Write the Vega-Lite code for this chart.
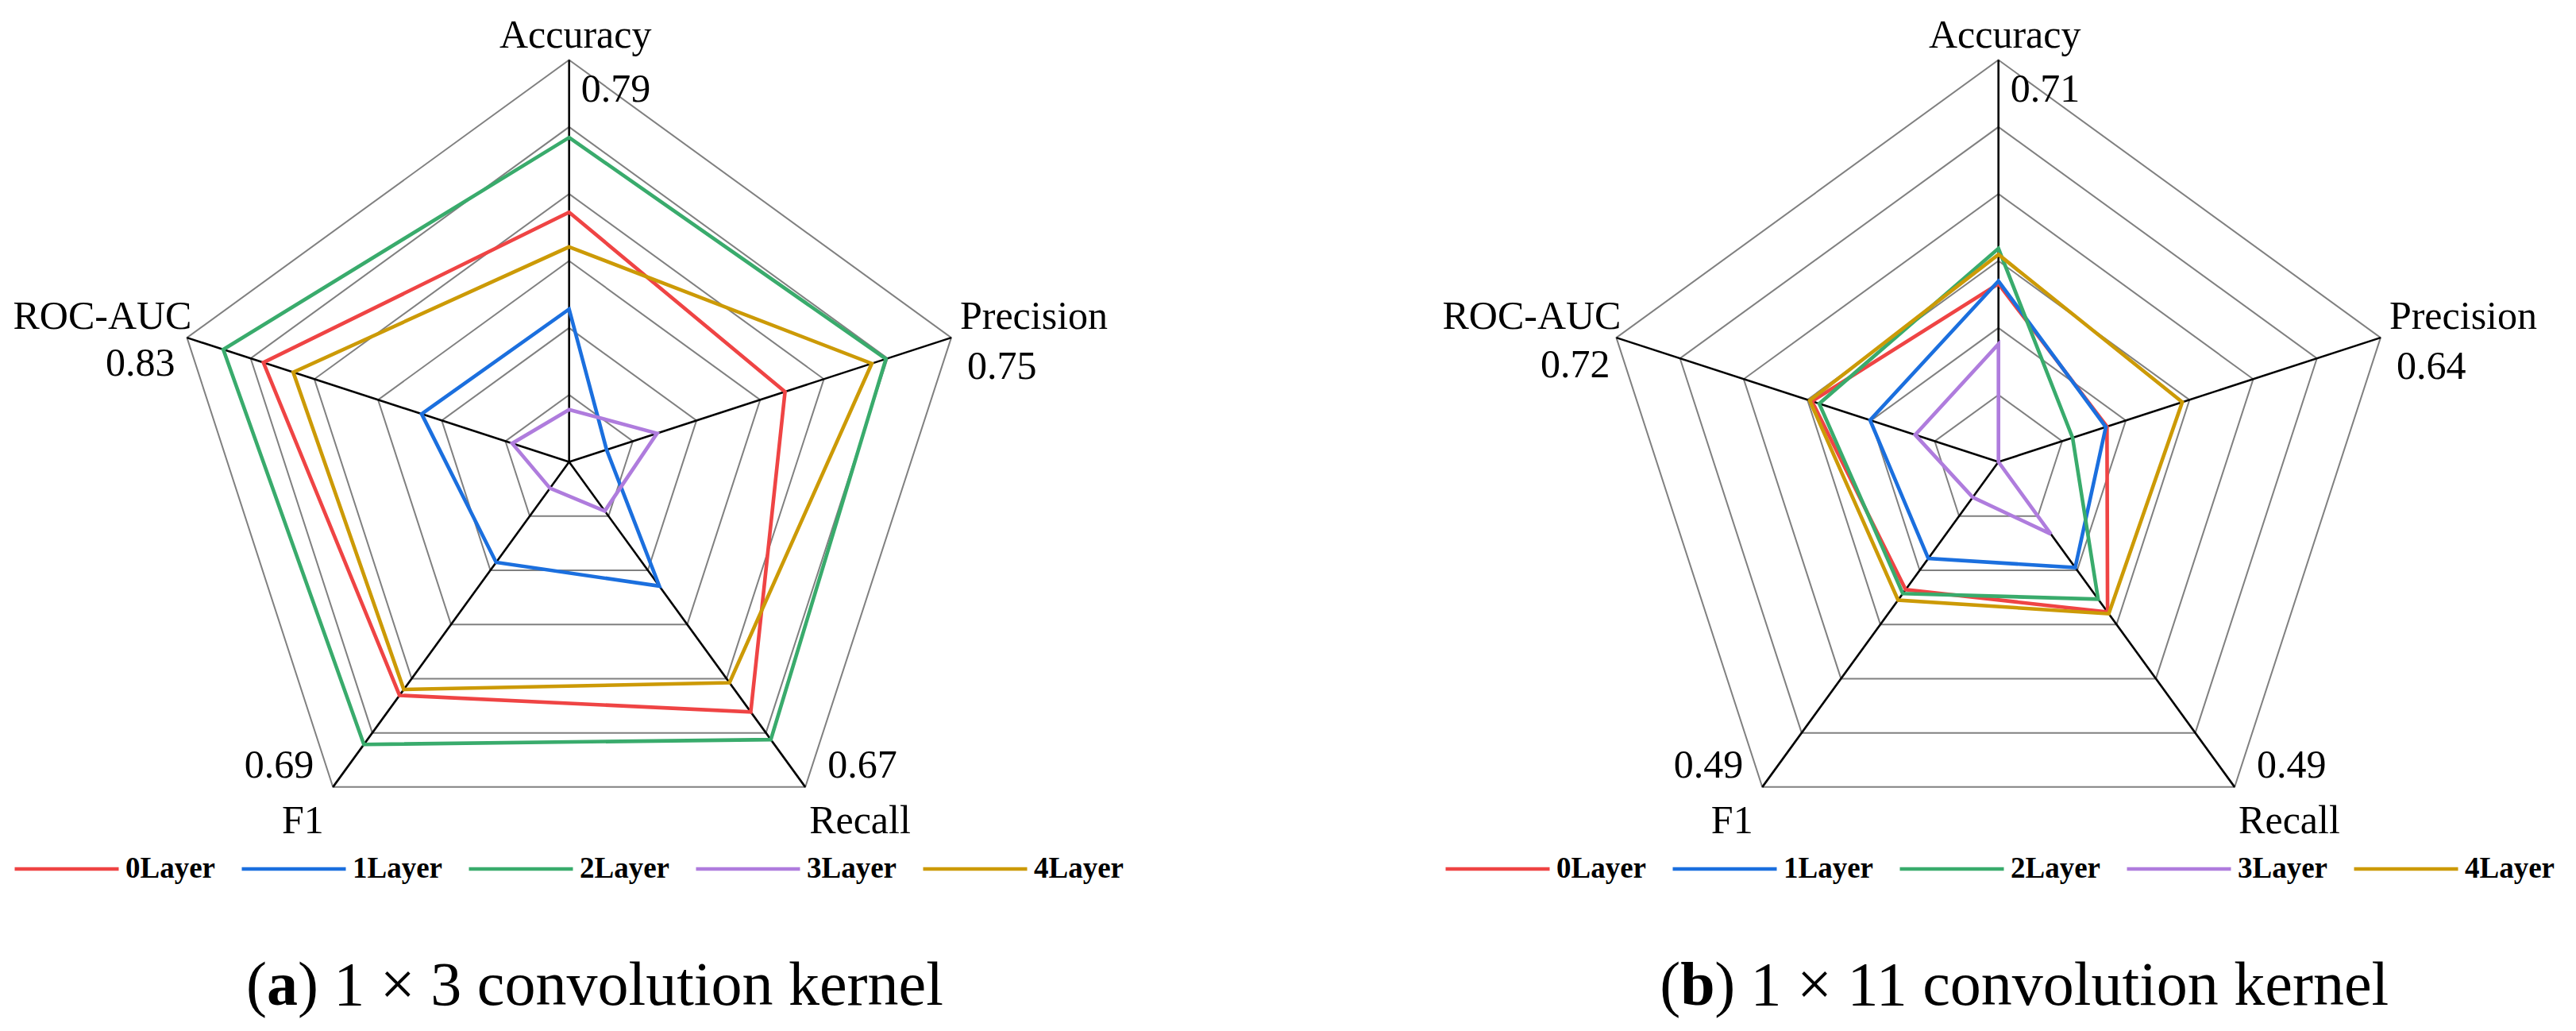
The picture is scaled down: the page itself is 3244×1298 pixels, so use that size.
{
  "$schema": "https://vega.github.io/schema/vega-lite/v6.json",
  "padding": 0,
  "spacing": 0,
  "background": "white",
  "config": {"view": {"stroke": null}, "font": "Liberation Serif"},
  "datasets": {
    "axes": [
      {"panel": "a", "metric": "Accuracy", "k": 0, "max": "0.79"},
      {"panel": "a", "metric": "Precision", "k": 1, "max": "0.75"},
      {"panel": "a", "metric": "Recall", "k": 2, "max": "0.67"},
      {"panel": "a", "metric": "F1", "k": 3, "max": "0.69"},
      {"panel": "a", "metric": "ROC-AUC", "k": 4, "max": "0.83"},
      {"panel": "b", "metric": "Accuracy", "k": 0, "max": "0.71"},
      {"panel": "b", "metric": "Precision", "k": 1, "max": "0.64"},
      {"panel": "b", "metric": "Recall", "k": 2, "max": "0.49"},
      {"panel": "b", "metric": "F1", "k": 3, "max": "0.49"},
      {"panel": "b", "metric": "ROC-AUC", "k": 4, "max": "0.72"}
    ],
    "rings": [
      {"level": 1, "k": [0, 1, 2, 3, 4]},
      {"level": 2, "k": [0, 1, 2, 3, 4]},
      {"level": 3, "k": [0, 1, 2, 3, 4]},
      {"level": 4, "k": [0, 1, 2, 3, 4]},
      {"level": 5, "k": [0, 1, 2, 3, 4]},
      {"level": 6, "k": [0, 1, 2, 3, 4]}
    ],
    "scores": [
      {"panel": "a", "layer": "0Layer", "metric": "Accuracy", "scaled": 0.621},
      {"panel": "a", "layer": "0Layer", "metric": "Precision", "scaled": 0.565},
      {"panel": "a", "layer": "0Layer", "metric": "Recall", "scaled": 0.769},
      {"panel": "a", "layer": "0Layer", "metric": "F1", "scaled": 0.718},
      {"panel": "a", "layer": "0Layer", "metric": "ROC-AUC", "scaled": 0.80},
      {"panel": "a", "layer": "1Layer", "metric": "Accuracy", "scaled": 0.380},
      {"panel": "a", "layer": "1Layer", "metric": "Precision", "scaled": 0.098},
      {"panel": "a", "layer": "1Layer", "metric": "Recall", "scaled": 0.382},
      {"panel": "a", "layer": "1Layer", "metric": "F1", "scaled": 0.309},
      {"panel": "a", "layer": "1Layer", "metric": "ROC-AUC", "scaled": 0.386},
      {"panel": "a", "layer": "2Layer", "metric": "Accuracy", "scaled": 0.807},
      {"panel": "a", "layer": "2Layer", "metric": "Precision", "scaled": 0.829},
      {"panel": "a", "layer": "2Layer", "metric": "Recall", "scaled": 0.854},
      {"panel": "a", "layer": "2Layer", "metric": "F1", "scaled": 0.869},
      {"panel": "a", "layer": "2Layer", "metric": "ROC-AUC", "scaled": 0.905},
      {"panel": "a", "layer": "3Layer", "metric": "Accuracy", "scaled": 0.130},
      {"panel": "a", "layer": "3Layer", "metric": "Precision", "scaled": 0.230},
      {"panel": "a", "layer": "3Layer", "metric": "Recall", "scaled": 0.151},
      {"panel": "a", "layer": "3Layer", "metric": "F1", "scaled": 0.081},
      {"panel": "a", "layer": "3Layer", "metric": "ROC-AUC", "scaled": 0.149},
      {"panel": "a", "layer": "4Layer", "metric": "Accuracy", "scaled": 0.535},
      {"panel": "a", "layer": "4Layer", "metric": "Precision", "scaled": 0.792},
      {"panel": "a", "layer": "4Layer", "metric": "Recall", "scaled": 0.679},
      {"panel": "a", "layer": "4Layer", "metric": "F1", "scaled": 0.700},
      {"panel": "a", "layer": "4Layer", "metric": "ROC-AUC", "scaled": 0.722},
      {"panel": "b", "layer": "0Layer", "metric": "Accuracy", "scaled": 0.443},
      {"panel": "b", "layer": "0Layer", "metric": "Precision", "scaled": 0.284},
      {"panel": "b", "layer": "0Layer", "metric": "Recall", "scaled": 0.462},
      {"panel": "b", "layer": "0Layer", "metric": "F1", "scaled": 0.393},
      {"panel": "b", "layer": "0Layer", "metric": "ROC-AUC", "scaled": 0.488},
      {"panel": "b", "layer": "1Layer", "metric": "Accuracy", "scaled": 0.450},
      {"panel": "b", "layer": "1Layer", "metric": "Precision", "scaled": 0.281},
      {"panel": "b", "layer": "1Layer", "metric": "Recall", "scaled": 0.325},
      {"panel": "b", "layer": "1Layer", "metric": "F1", "scaled": 0.297},
      {"panel": "b", "layer": "1Layer", "metric": "ROC-AUC", "scaled": 0.336},
      {"panel": "b", "layer": "2Layer", "metric": "Accuracy", "scaled": 0.531},
      {"panel": "b", "layer": "2Layer", "metric": "Precision", "scaled": 0.194},
      {"panel": "b", "layer": "2Layer", "metric": "Recall", "scaled": 0.422},
      {"panel": "b", "layer": "2Layer", "metric": "F1", "scaled": 0.405},
      {"panel": "b", "layer": "2Layer", "metric": "ROC-AUC", "scaled": 0.469},
      {"panel": "b", "layer": "3Layer", "metric": "Accuracy", "scaled": 0.293},
      {"panel": "b", "layer": "3Layer", "metric": "Precision", "scaled": 0.0},
      {"panel": "b", "layer": "3Layer", "metric": "Recall", "scaled": 0.222},
      {"panel": "b", "layer": "3Layer", "metric": "F1", "scaled": 0.109},
      {"panel": "b", "layer": "3Layer", "metric": "ROC-AUC", "scaled": 0.218},
      {"panel": "b", "layer": "4Layer", "metric": "Accuracy", "scaled": 0.516},
      {"panel": "b", "layer": "4Layer", "metric": "Precision", "scaled": 0.481},
      {"panel": "b", "layer": "4Layer", "metric": "Recall", "scaled": 0.467},
      {"panel": "b", "layer": "4Layer", "metric": "F1", "scaled": 0.425},
      {"panel": "b", "layer": "4Layer", "metric": "ROC-AUC", "scaled": 0.494}
    ]
  },
  "resolve": {"scale": {"x": "independent", "y": "independent", "color": "independent"}, "legend": {"color": "independent"}},
  "hconcat": [
    {
      "width": 1622,
      "height": 1298,
      "layer": [
        {
          "data": {"name": "rings"},
          "transform": [
            {"flatten": ["k"]},
            {"calculate": "datum.level/6*sin(datum.k*2*PI/5)", "as": "x"},
            {"calculate": "datum.level/6*cos(datum.k*2*PI/5)", "as": "y"}
          ],
          "mark": {"type": "line", "interpolate": "linear-closed", "stroke": "#808080", "strokeWidth": 2},
          "encoding": {
            "x": {"field": "x", "type": "quantitative", "scale": {"domain": [-1.4164, 1.7891], "nice": false, "zero": false}, "axis": null},
            "y": {"field": "y", "type": "quantitative", "scale": {"domain": [-1.416, 1.1492], "nice": false, "zero": false}, "axis": null},
            "detail": {"field": "level"},
            "order": {"field": "k"}
          }
        },
        {
          "data": {"name": "axes"},
          "transform": [
            {"filter": "datum.panel == 'a'"},
            {"calculate": "sin(datum.k*2*PI/5)", "as": "vx"},
            {"calculate": "cos(datum.k*2*PI/5)", "as": "vy"}
          ],
          "layer": [
            {
              "mark": {"type": "rule", "stroke": "black", "strokeWidth": 2.6},
              "encoding": {
                "x": {"field": "vx", "type": "quantitative"},
                "y": {"field": "vy", "type": "quantitative"},
                "x2": {"datum": 0},
                "y2": {"datum": 0}
              }
            },
            {
              "transform": [{"filter": "datum.k == 0"}],
              "layer": [
                {"mark": {"type": "text", "fontSize": 50, "align": "center", "baseline": "alphabetic", "dx": 8, "dy": -15}, "encoding": {"x": {"field": "vx", "type": "quantitative"}, "y": {"field": "vy", "type": "quantitative"}, "text": {"field": "metric"}}},
                {"mark": {"type": "text", "fontSize": 50, "align": "left", "baseline": "alphabetic", "dx": 15, "dy": 53}, "encoding": {"x": {"field": "vx", "type": "quantitative"}, "y": {"field": "vy", "type": "quantitative"}, "text": {"field": "max"}}}
              ]
            },
            {
              "transform": [{"filter": "datum.k == 1"}],
              "layer": [
                {"mark": {"type": "text", "fontSize": 50, "align": "left", "baseline": "alphabetic", "dx": 11, "dy": -11}, "encoding": {"x": {"field": "vx", "type": "quantitative"}, "y": {"field": "vy", "type": "quantitative"}, "text": {"field": "metric"}}},
                {"mark": {"type": "text", "fontSize": 50, "align": "left", "baseline": "alphabetic", "dx": 20, "dy": 52}, "encoding": {"x": {"field": "vx", "type": "quantitative"}, "y": {"field": "vy", "type": "quantitative"}, "text": {"field": "max"}}}
              ]
            },
            {
              "transform": [{"filter": "datum.k == 2"}],
              "layer": [
                {"mark": {"type": "text", "fontSize": 50, "align": "left", "baseline": "alphabetic", "dx": 5, "dy": 58}, "encoding": {"x": {"field": "vx", "type": "quantitative"}, "y": {"field": "vy", "type": "quantitative"}, "text": {"field": "metric"}}},
                {"mark": {"type": "text", "fontSize": 50, "align": "left", "baseline": "alphabetic", "dx": 28, "dy": -12}, "encoding": {"x": {"field": "vx", "type": "quantitative"}, "y": {"field": "vy", "type": "quantitative"}, "text": {"field": "max"}}}
              ]
            },
            {
              "transform": [{"filter": "datum.k == 3"}],
              "layer": [
                {"mark": {"type": "text", "fontSize": 50, "align": "center", "baseline": "alphabetic", "dx": -38, "dy": 58}, "encoding": {"x": {"field": "vx", "type": "quantitative"}, "y": {"field": "vy", "type": "quantitative"}, "text": {"field": "metric"}}},
                {"mark": {"type": "text", "fontSize": 50, "align": "right", "baseline": "alphabetic", "dx": -24, "dy": -12}, "encoding": {"x": {"field": "vx", "type": "quantitative"}, "y": {"field": "vy", "type": "quantitative"}, "text": {"field": "max"}}}
              ]
            },
            {
              "transform": [{"filter": "datum.k == 4"}],
              "layer": [
                {"mark": {"type": "text", "fontSize": 50, "align": "right", "baseline": "alphabetic", "dx": 6, "dy": -11}, "encoding": {"x": {"field": "vx", "type": "quantitative"}, "y": {"field": "vy", "type": "quantitative"}, "text": {"field": "metric"}}},
                {"mark": {"type": "text", "fontSize": 50, "align": "right", "baseline": "alphabetic", "dx": -15, "dy": 48}, "encoding": {"x": {"field": "vx", "type": "quantitative"}, "y": {"field": "vy", "type": "quantitative"}, "text": {"field": "max"}}}
              ]
            }
          ]
        },
        {
          "data": {"name": "scores"},
          "transform": [
            {"filter": "datum.panel == 'a'"},
            {"lookup": "metric", "from": {"data": {"name": "axes"}, "key": "metric", "fields": ["k"]}},
            {"calculate": "datum.scaled*sin(datum.k*2*PI/5)", "as": "x"},
            {"calculate": "datum.scaled*cos(datum.k*2*PI/5)", "as": "y"}
          ],
          "mark": {"type": "line", "interpolate": "linear-closed", "strokeWidth": 4.6},
          "encoding": {
            "x": {"field": "x", "type": "quantitative"},
            "y": {"field": "y", "type": "quantitative"},
            "order": {"field": "k"},
            "color": {
              "field": "layer",
              "type": "nominal",
              "scale": {"domain": ["0Layer", "1Layer", "2Layer", "3Layer", "4Layer"], "range": ["#EF4444", "#1B6FDE", "#39AB6C", "#AF7CDD", "#CC9A06"]},
              "legend": {"orient": "none", "legendX": 16, "legendY": 1026, "direction": "horizontal", "columns": 5, "title": null, "symbolType": "stroke", "symbolSize": 17161, "symbolStrokeWidth": 4.5, "labelFont": "Liberation Serif", "labelFontWeight": "bold", "labelFontSize": 37, "labelColor": "black", "labelOffset": 6, "columnPadding": 23, "padding": 0, "labelLimit": 400}
            }
          }
        },
        {
          "data": {"values": [{"part": "(", "bold": "a", "rest": ") 1 × 3 convolution kernel"}]},
          "layer": [
            {"mark": {"type": "text", "fontSize": 78, "align": "left", "baseline": "alphabetic", "dx": 0}, "encoding": {"x": {"datum": -0.804}, "y": {"datum": -1.35}, "text": {"field": "part"}}},
            {"mark": {"type": "text", "fontSize": 78, "fontWeight": "bold", "align": "left", "baseline": "alphabetic", "dx": 26}, "encoding": {"x": {"datum": -0.804}, "y": {"datum": -1.35}, "text": {"field": "bold"}}},
            {"mark": {"type": "text", "fontSize": 78, "align": "left", "baseline": "alphabetic", "dx": 65}, "encoding": {"x": {"datum": -0.804}, "y": {"datum": -1.35}, "text": {"field": "rest"}}}
          ]
        }
      ]
    },
    {
      "width": 1622,
      "height": 1298,
      "layer": [
        {
          "data": {"name": "rings"},
          "transform": [
            {"flatten": ["k"]},
            {"calculate": "datum.level/6*sin(datum.k*2*PI/5)", "as": "x"},
            {"calculate": "datum.level/6*cos(datum.k*2*PI/5)", "as": "y"}
          ],
          "mark": {"type": "line", "interpolate": "linear-closed", "stroke": "#808080", "strokeWidth": 2},
          "encoding": {
            "x": {"field": "x", "type": "quantitative", "scale": {"domain": [-1.7682, 1.4374], "nice": false, "zero": false}, "axis": null},
            "y": {"field": "y", "type": "quantitative", "scale": {"domain": [-1.416, 1.1492], "nice": false, "zero": false}, "axis": null},
            "detail": {"field": "level"},
            "order": {"field": "k"}
          }
        },
        {
          "data": {"name": "axes"},
          "transform": [
            {"filter": "datum.panel == 'b'"},
            {"calculate": "sin(datum.k*2*PI/5)", "as": "vx"},
            {"calculate": "cos(datum.k*2*PI/5)", "as": "vy"}
          ],
          "layer": [
            {
              "mark": {"type": "rule", "stroke": "black", "strokeWidth": 2.6},
              "encoding": {
                "x": {"field": "vx", "type": "quantitative"},
                "y": {"field": "vy", "type": "quantitative"},
                "x2": {"datum": 0},
                "y2": {"datum": 0}
              }
            },
            {
              "transform": [{"filter": "datum.k == 0"}],
              "layer": [
                {"mark": {"type": "text", "fontSize": 50, "align": "center", "baseline": "alphabetic", "dx": 8, "dy": -15}, "encoding": {"x": {"field": "vx", "type": "quantitative"}, "y": {"field": "vy", "type": "quantitative"}, "text": {"field": "metric"}}},
                {"mark": {"type": "text", "fontSize": 50, "align": "left", "baseline": "alphabetic", "dx": 15, "dy": 53}, "encoding": {"x": {"field": "vx", "type": "quantitative"}, "y": {"field": "vy", "type": "quantitative"}, "text": {"field": "max"}}}
              ]
            },
            {
              "transform": [{"filter": "datum.k == 1"}],
              "layer": [
                {"mark": {"type": "text", "fontSize": 50, "align": "left", "baseline": "alphabetic", "dx": 11, "dy": -11}, "encoding": {"x": {"field": "vx", "type": "quantitative"}, "y": {"field": "vy", "type": "quantitative"}, "text": {"field": "metric"}}},
                {"mark": {"type": "text", "fontSize": 50, "align": "left", "baseline": "alphabetic", "dx": 20, "dy": 52}, "encoding": {"x": {"field": "vx", "type": "quantitative"}, "y": {"field": "vy", "type": "quantitative"}, "text": {"field": "max"}}}
              ]
            },
            {
              "transform": [{"filter": "datum.k == 2"}],
              "layer": [
                {"mark": {"type": "text", "fontSize": 50, "align": "left", "baseline": "alphabetic", "dx": 5, "dy": 58}, "encoding": {"x": {"field": "vx", "type": "quantitative"}, "y": {"field": "vy", "type": "quantitative"}, "text": {"field": "metric"}}},
                {"mark": {"type": "text", "fontSize": 50, "align": "left", "baseline": "alphabetic", "dx": 28, "dy": -12}, "encoding": {"x": {"field": "vx", "type": "quantitative"}, "y": {"field": "vy", "type": "quantitative"}, "text": {"field": "max"}}}
              ]
            },
            {
              "transform": [{"filter": "datum.k == 3"}],
              "layer": [
                {"mark": {"type": "text", "fontSize": 50, "align": "center", "baseline": "alphabetic", "dx": -38, "dy": 58}, "encoding": {"x": {"field": "vx", "type": "quantitative"}, "y": {"field": "vy", "type": "quantitative"}, "text": {"field": "metric"}}},
                {"mark": {"type": "text", "fontSize": 50, "align": "right", "baseline": "alphabetic", "dx": -24, "dy": -12}, "encoding": {"x": {"field": "vx", "type": "quantitative"}, "y": {"field": "vy", "type": "quantitative"}, "text": {"field": "max"}}}
              ]
            },
            {
              "transform": [{"filter": "datum.k == 4"}],
              "layer": [
                {"mark": {"type": "text", "fontSize": 50, "align": "right", "baseline": "alphabetic", "dx": 6, "dy": -11}, "encoding": {"x": {"field": "vx", "type": "quantitative"}, "y": {"field": "vy", "type": "quantitative"}, "text": {"field": "metric"}}},
                {"mark": {"type": "text", "fontSize": 50, "align": "right", "baseline": "alphabetic", "dx": -8, "dy": 50}, "encoding": {"x": {"field": "vx", "type": "quantitative"}, "y": {"field": "vy", "type": "quantitative"}, "text": {"field": "max"}}}
              ]
            }
          ]
        },
        {
          "data": {"name": "scores"},
          "transform": [
            {"filter": "datum.panel == 'b'"},
            {"lookup": "metric", "from": {"data": {"name": "axes"}, "key": "metric", "fields": ["k"]}},
            {"calculate": "datum.scaled*sin(datum.k*2*PI/5)", "as": "x"},
            {"calculate": "datum.scaled*cos(datum.k*2*PI/5)", "as": "y"}
          ],
          "mark": {"type": "line", "interpolate": "linear-closed", "strokeWidth": 4.6},
          "encoding": {
            "x": {"field": "x", "type": "quantitative"},
            "y": {"field": "y", "type": "quantitative"},
            "order": {"field": "k"},
            "color": {
              "field": "layer",
              "type": "nominal",
              "scale": {"domain": ["0Layer", "1Layer", "2Layer", "3Layer", "4Layer"], "range": ["#EF4444", "#1B6FDE", "#39AB6C", "#AF7CDD", "#CC9A06"]},
              "legend": {"orient": "none", "legendX": 196, "legendY": 1026, "direction": "horizontal", "columns": 5, "title": null, "symbolType": "stroke", "symbolSize": 17161, "symbolStrokeWidth": 4.5, "labelFont": "Liberation Serif", "labelFontWeight": "bold", "labelFontSize": 37, "labelColor": "black", "labelOffset": 6, "columnPadding": 23, "padding": 0, "labelLimit": 400}
            }
          }
        },
        {
          "data": {"values": [{"part": "(", "bold": "b", "rest": ") 1 × 11 convolution kernel"}]},
          "layer": [
            {"mark": {"type": "text", "fontSize": 78, "align": "left", "baseline": "alphabetic", "dx": 0}, "encoding": {"x": {"datum": -0.843}, "y": {"datum": -1.35}, "text": {"field": "part"}}},
            {"mark": {"type": "text", "fontSize": 78, "fontWeight": "bold", "align": "left", "baseline": "alphabetic", "dx": 26}, "encoding": {"x": {"datum": -0.843}, "y": {"datum": -1.35}, "text": {"field": "bold"}}},
            {"mark": {"type": "text", "fontSize": 78, "align": "left", "baseline": "alphabetic", "dx": 69}, "encoding": {"x": {"datum": -0.843}, "y": {"datum": -1.35}, "text": {"field": "rest"}}}
          ]
        }
      ]
    }
  ]
}
